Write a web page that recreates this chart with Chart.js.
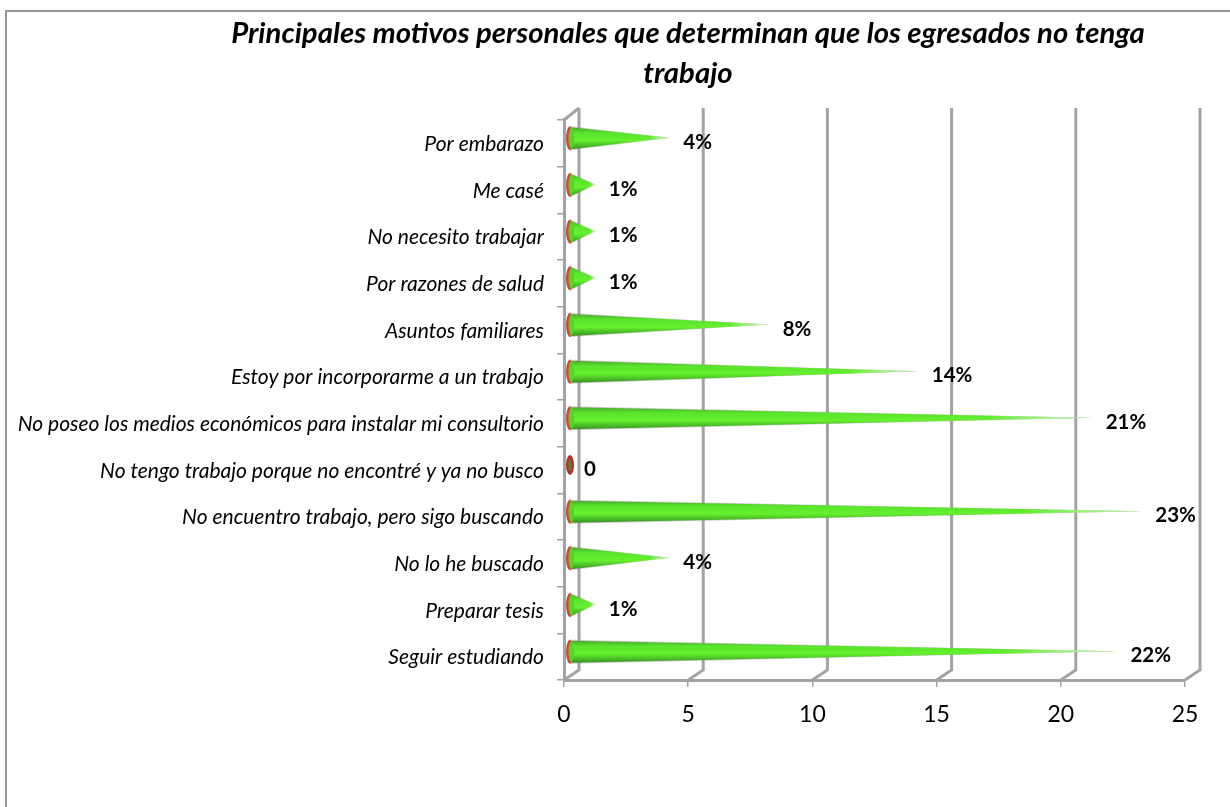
<!DOCTYPE html>
<html>
<head>
<meta charset="utf-8">
<style>
html,body{margin:0;padding:0;background:#fff;overflow:hidden}
#wrap{position:relative;width:1230px;height:807px}
#frame{position:absolute;left:5px;top:10px;width:1300px;height:900px;border:2px solid #969696;box-sizing:border-box}
canvas{position:absolute;left:0;top:0}
</style>
<script src="https://cdn.jsdelivr.net/npm/chart.js@4/dist/chart.umd.min.js"></script>
</head>
<body>
<div id="wrap">
<div id="frame"></div>
<canvas id="motivosChart" width="1230" height="807"></canvas>
</div>
<script>
const categories = [
  'Por embarazo',
  'Me casé',
  'No necesito trabajar',
  'Por razones de salud',
  'Asuntos familiares',
  'Estoy por incorporarme a un trabajo',
  'No poseo los medios económicos para instalar mi consultorio',
  'No tengo trabajo porque no encontré y ya no busco',
  'No encuentro trabajo, pero sigo buscando',
  'No lo he buscado',
  'Preparar tesis',
  'Seguir estudiando'
];
const values = [4, 1, 1, 1, 8, 14, 21, 0, 23, 4, 1, 22];
const valueLabels = ['4%', '1%', '1%', '1%', '8%', '14%', '21%', '0', '23%', '4%', '1%', '22%'];
const titleLines = [
  'Principales motivos personales que determinan que los egresados no tenga',
  'trabajo'
];
const axisTicks = [0, 5, 10, 15, 20, 25];

const GRID = '#a3a3a3';
const FONT = 'Lato, "Open Sans", sans-serif';

// fake 3D wall: slanted feet and back grid lines
const wallPlugin = {
  id: 'wall',
  afterLayout(chart) {
    // title is centred over 191..1185, not the whole canvas
    chart.titleBlock.left = 191;
  },
  beforeDatasetsDraw(chart) {
    const { ctx, chartArea, scales } = chart;
    const dx = 15, dy = 10, topY = chartArea.top - 12;
    ctx.save();
    ctx.strokeStyle = GRID;
    ctx.lineWidth = 3;
    axisTicks.forEach(function (t) {
      const x = scales.x.getPixelForValue(t);
      ctx.beginPath();
      ctx.moveTo(x, chartArea.bottom);
      ctx.lineTo(x + dx, chartArea.bottom - dy);
      ctx.lineTo(x + dx, topY);
      ctx.stroke();
    });
    const x0 = scales.x.getPixelForValue(0);
    ctx.beginPath();
    ctx.moveTo(x0, chartArea.top);
    ctx.lineTo(x0 + dx, topY);
    ctx.stroke();
    ctx.restore();
  }
};

// cones are drawn on top of the (transparent) bar elements
const conePlugin = {
  id: 'cones',
  afterDatasetsDraw(chart) {
    const { ctx } = chart;
    const bars = chart.getDatasetMeta(0).data;
    const ox = 6, oy = -5, ry = 11, rx = 3.5;
    ctx.save();
    ctx.font = 'bold 20.5px ' + FONT;
    bars.forEach(function (bar, i) {
      const baseX = bar.base + ox;
      const tipX = bar.x + ox;
      const y = bar.y + oy;

      if (values[i] === 0) {
        ctx.fillStyle = '#b5302a';
        ctx.beginPath();
        ctx.ellipse(baseX, y, rx + 0.5, ry - 1, 0, 0, Math.PI * 2);
        ctx.fill();
        ctx.fillStyle = '#4f8a2a';
        ctx.beginPath();
        ctx.ellipse(baseX, y, 1.5, ry - 5, 0, 0, Math.PI * 2);
        ctx.fill();
      } else {
        // grey soft edge behind the cone
        ctx.fillStyle = 'rgba(150,150,150,0.45)';
        ctx.beginPath();
        ctx.moveTo(baseX, y - ry - 1);
        ctx.lineTo(tipX + 1, y - 0.5);
        ctx.lineTo(baseX, y + ry + 1);
        ctx.closePath();
        ctx.fill();

        const grad = ctx.createLinearGradient(0, y - ry, 0, y + ry);
        grad.addColorStop(0, '#4aa82e');
        grad.addColorStop(0.25, '#5ae42c');
        grad.addColorStop(0.6, '#66f02f');
        grad.addColorStop(0.88, '#42b024');
        grad.addColorStop(1, '#3f8c2c');
        ctx.fillStyle = grad;
        ctx.beginPath();
        ctx.moveTo(baseX, y - ry);
        ctx.lineTo(tipX, y - 0.5);
        ctx.lineTo(baseX, y + ry);
        ctx.closePath();
        ctx.fill();

        // tip fades out
        const fade = ctx.createLinearGradient(baseX, 0, tipX, 0);
        fade.addColorStop(0, 'rgba(255,255,255,0)');
        fade.addColorStop(0.8, 'rgba(255,255,255,0)');
        fade.addColorStop(1, 'rgba(225,230,225,0.85)');
        ctx.fillStyle = fade;
        ctx.beginPath();
        ctx.moveTo(baseX, y - ry - 1);
        ctx.lineTo(tipX + 1, y - 0.5);
        ctx.lineTo(baseX, y + ry + 1);
        ctx.closePath();
        ctx.fill();

        // base cap
        ctx.fillStyle = '#54d42c';
        ctx.strokeStyle = '#cf4a2a';
        ctx.lineWidth = 2.5;
        ctx.beginPath();
        ctx.ellipse(baseX, y, rx, ry, 0, 0, Math.PI * 2);
        ctx.fill();
        ctx.beginPath();
        ctx.ellipse(baseX, y, rx, ry, 0, Math.PI * 0.5, Math.PI * 1.5);
        ctx.stroke();
      }

      ctx.fillStyle = '#000';
      ctx.textAlign = 'left';
      ctx.textBaseline = 'middle';
      ctx.fillText(valueLabels[i], tipX + 14, y + 4);
    });
    ctx.restore();
  }
};

new Chart(document.getElementById('motivosChart'), {
  type: 'bar',
  plugins: [wallPlugin, conePlugin],
  data: {
    labels: categories,
    datasets: [{
      data: values,
      backgroundColor: 'rgba(0,0,0,0)',
      barThickness: 22
    }]
  },
  options: {
    indexAxis: 'y',
    responsive: false,
    animation: false,
    layout: { padding: { left: 0, right: 45, top: 0, bottom: 0 } },
    plugins: {
      legend: { display: false },
      tooltip: { enabled: false },
      title: {
        display: true,
        text: titleLines,
        color: '#000',
        font: { family: FONT, size: 29.3, weight: 'bold', style: 'italic', lineHeight: 1.365 },
        padding: { top: 13.5, bottom: 26.5 }
      }
    },
    scales: {
      x: {
        min: 0,
        max: 25,
        afterFit(scale) { scale.height = 127; },
        afterBuildTicks(scale) { scale.ticks = axisTicks.map(function (v) { return { value: v }; }); },
        grid: { drawOnChartArea: false, color: GRID, lineWidth: 1.5, tickLength: 7 },
        border: { color: GRID, width: 3 },
        ticks: { color: '#000', font: { family: FONT, size: 23 }, padding: 14, maxRotation: 0 }
      },
      y: {
        afterFit(scale) { scale.width = 564; },
        grid: { drawOnChartArea: false, color: GRID, lineWidth: 1.5, tickLength: 7, offset: true },
        border: { color: GRID, width: 3 },
        ticks: { color: '#000', autoSkip: false, font: { family: FONT, size: 21, style: 'italic' }, padding: 13, labelOffset: 1 }
      }
    }
  }
});
</script>
</body>
</html>
